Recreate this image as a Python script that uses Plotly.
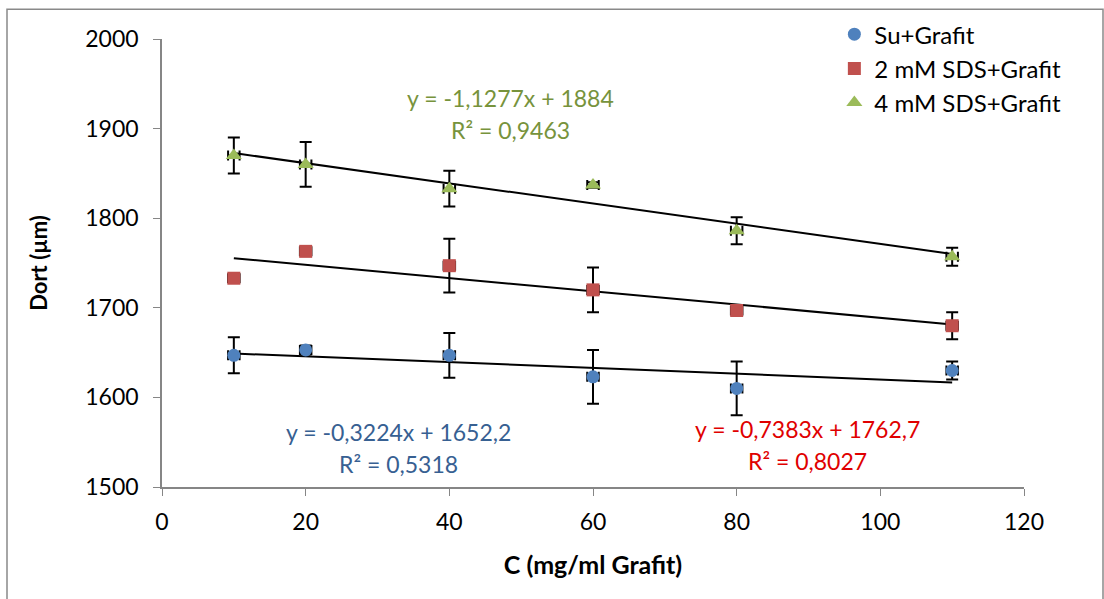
import plotly.graph_objects as go

# ---- data ----
x_vals = [10, 20, 40, 60, 80, 110]

su_y = [1647, 1653, 1647, 1623, 1610, 1630]
su_err = [20, 5, 25, 30, 30, 10]

sds2_y = [1733, 1763, 1747, 1720, 1697, 1680]
sds2_err = [3, 3, 30, 25, 3, 15]

sds4_y = [1870, 1860, 1833, 1837, 1786, 1757]
sds4_err = [20, 25, 20, 3, 15, 10]

x_err = [0.8] * 6

series_names = ["Su+Grafit", "2 mM SDS+Grafit", "4 mM SDS+Grafit"]
slopes = [-0.3224, -0.7383, -1.1277]
intercepts = [1652.2, 1762.7, 1884.0]
eq_texts = ["y = -0,3224x + 1652,2", "y = -0,7383x + 1762,7", "y = -1,1277x + 1884"]
r2_texts = ["R² = 0,5318", "R² = 0,8027", "R² = 0,9463"]

x_ticks = [0, 20, 40, 60, 80, 100, 120]
y_ticks = [1500, 1600, 1700, 1800, 1900, 2000]

marker_colors = ["#4F81BD", "#C0504D", "#9BBB59"]
marker_symbols = ["circle", "square", "triangle-up"]
marker_sizes = [13, 13, 14]
text_colors = ["#376092", "#E00000", "#77933C"]

FONT = "Lato"

fig = go.Figure()

ys = [su_y, sds2_y, sds4_y]
errs = [su_err, sds2_err, sds4_err]

# trendlines
for i in range(3):
    xl = [x_vals[0], x_vals[-1]]
    yl = [slopes[i] * xv + intercepts[i] for xv in xl]
    fig.add_trace(go.Scatter(x=xl, y=yl, mode="lines",
                             line=dict(color="black", width=2),
                             showlegend=False, hoverinfo="skip"))

for i in range(3):
    fig.add_trace(go.Scatter(
        x=x_vals, y=ys[i], mode="markers", name=series_names[i],
        marker=dict(color=marker_colors[i], symbol=marker_symbols[i], size=marker_sizes[i],
                    line=dict(width=0)),
        error_y=dict(type="data", array=errs[i], visible=True, color="black",
                     thickness=2, width=6),
        error_x=dict(type="data", array=x_err, visible=True, color="black",
                     thickness=2, width=5),
    ))

# annotations
ann_pos = [((32.9, 1561), (32.9, 1525.6)),
           ((89.8, 1564.4), (89.8, 1528.9)),
           ((48.5, 1934.4), (48.5, 1898.9))]
annotations = []
for i in range(3):
    (ex, ey), (rx, ry) = ann_pos[i]
    annotations.append(dict(x=ex, y=ey, xref="x", yref="y", text=eq_texts[i],
                            showarrow=False, font=dict(family=FONT, size=23, color=text_colors[i])))
    annotations.append(dict(x=rx, y=ry, xref="x", yref="y", text=r2_texts[i],
                            showarrow=False, font=dict(family=FONT, size=23, color=text_colors[i])))

W, H = 1104, 599
ml, mr, mt, mb = 162, 80, 37, 112
pw, ph = W - ml - mr, H - mt - mb

fig.update_layout(
    width=W, height=H,
    margin=dict(l=ml, r=mr, t=mt, b=mb),
    paper_bgcolor="white", plot_bgcolor="white",
    font=dict(family=FONT, size=23, color="black"),
    annotations=annotations,
    legend=dict(x=0.78, y=1.06, xanchor="left", yanchor="top",
                font=dict(family=FONT, size=24), tracegroupgap=0,
                bgcolor="rgba(0,0,0,0)"),
    shapes=[dict(type="rect", xref="paper", yref="paper",
                 x0=(7 - ml) / pw, x1=(1103 - ml) / pw,
                 y0=-(mb + 10) / ph, y1=1 + (mt - 7) / ph,
                 line=dict(color="#898989", width=1.5))],
    xaxis=dict(range=[0, 120], tickvals=x_ticks, showgrid=False, zeroline=False,
               showline=True, linecolor="#868686", linewidth=1.5,
               ticks="outside", ticklen=7, tickcolor="#868686",
               ticklabelstandoff=7,
               tickfont=dict(family=FONT, size=23),
               title=dict(text="<b>C (mg/ml Grafit)</b>", font=dict(family=FONT, size=25), standoff=22)),
    yaxis=dict(range=[1500, 2000], tickvals=y_ticks, showgrid=False, zeroline=False,
               showline=True, linecolor="#868686", linewidth=1.5,
               ticks="outside", ticklen=7, tickcolor="#868686",
               ticklabelstandoff=10,
               tickfont=dict(family=FONT, size=23),
               title=dict(text="<b>Dort (µm)</b>", font=dict(family=FONT, size=22), standoff=32)),
)

fig.write_html("out.html", config={"displayModeBar": False},
               post_script="document.body.style.margin='0px';")
